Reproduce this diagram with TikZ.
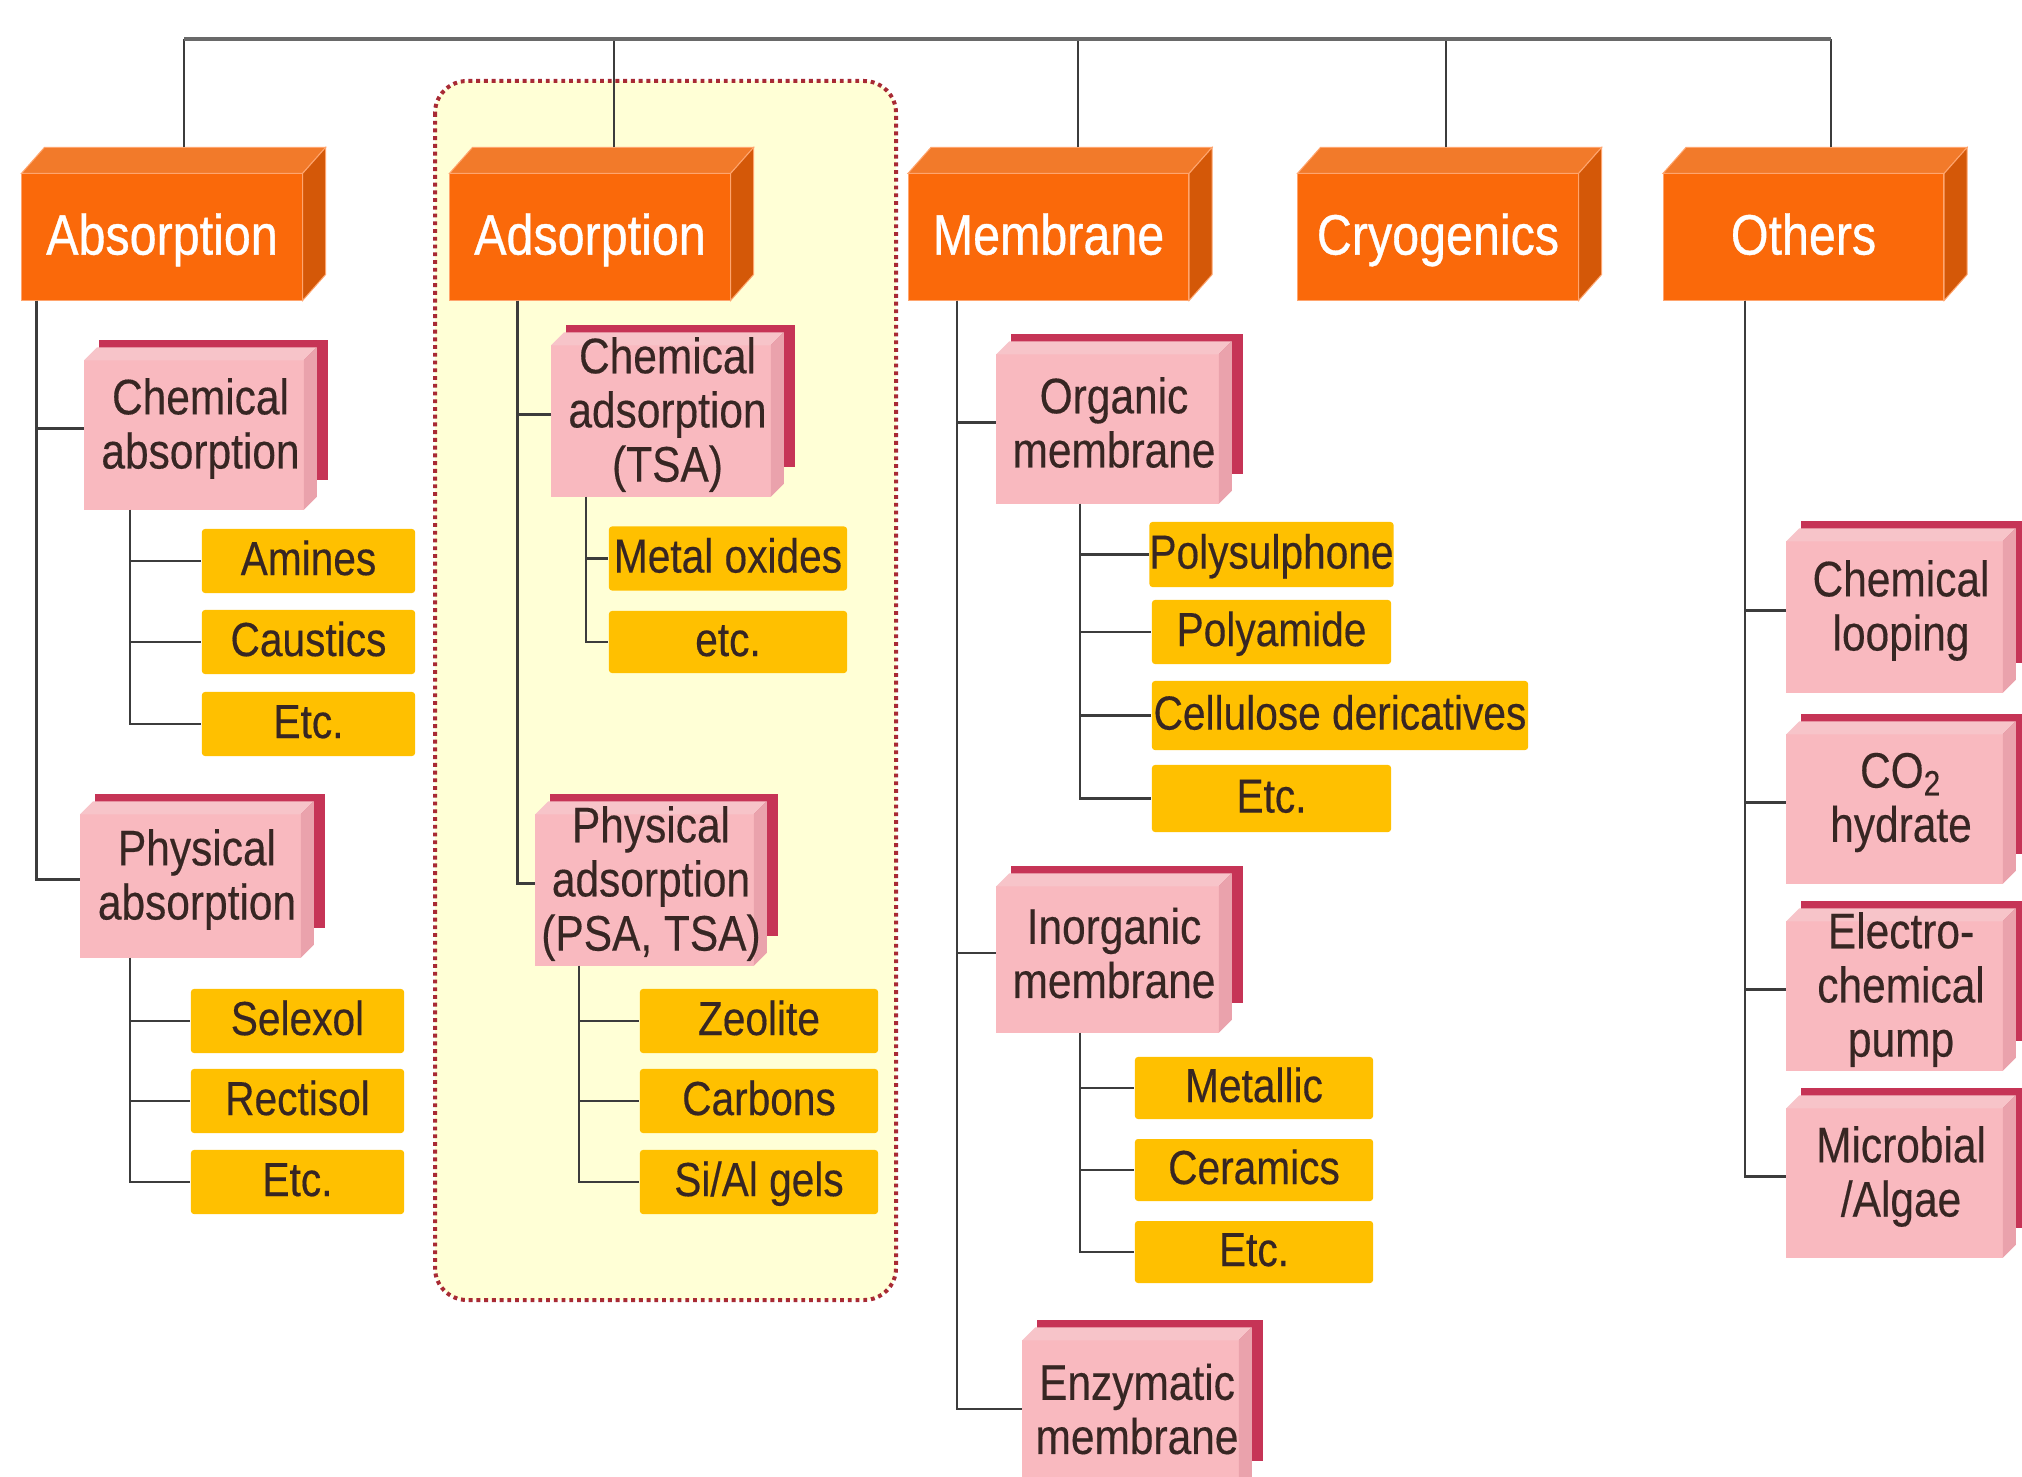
\documentclass[tikz,border=0pt]{standalone}
\usepackage{fontspec}
\setmainfont{Liberation Sans}
\newfontfamily\cfont[FakeStretch=0.85,FakeBold=0.3]{Liberation Sans}
\newfontfamily\hfont[FakeStretch=0.85,FakeBold=0.6]{Liberation Sans}
\newcommand\hfnt{\hfont\fontsize{16.2}{19}\selectfont}
\newcommand\pfnt{\cfont\fontsize{14.2}{15.4}\selectfont}
\newcommand\yfnt{\cfont\fontsize{13.6}{16}\selectfont}
\definecolor{orF}{RGB}{250,105,10}
\definecolor{orT}{RGB}{242,122,42}
\definecolor{orS}{RGB}{212,88,8}
\definecolor{orE}{RGB}{255,165,110}
\definecolor{pkF}{RGB}{249,185,191}
\definecolor{pkT}{RGB}{247,196,201}
\definecolor{pkS}{RGB}{234,162,172}
\definecolor{plate}{RGB}{198,52,86}
\definecolor{ylw}{RGB}{255,192,0}
\definecolor{txD}{RGB}{55,38,35}
\definecolor{lnC}{RGB}{60,60,60}
\definecolor{barC}{RGB}{105,105,105}
\definecolor{regF}{RGB}{255,255,214}
\definecolor{regD}{RGB}{168,42,52}
\pgfdeclarelayer{bgzero}
\pgfdeclarelayer{bgone}
\pgfsetlayers{bgzero,bgone,main}
\tikzset{
  hdr/.style={fill=orF, draw=orE, line width=0.01cm, text=white, font=\hfnt,
    minimum width=2.80cm, minimum height=1.26cm, inner sep=0pt,
    text height=13.4pt, text depth=3.4pt},
  pbox/.style={text=txD, font=\pfnt, align=center, inner sep=0pt,
    minimum width=2.31cm, minimum height=1.61cm},
  ybox/.style={fill=ylw, rounded corners=0.03cm, text=txD, font=\yfnt, inner sep=0pt,
    minimum width=2.13cm, minimum height=0.64cm, text height=10.9pt, text depth=2.9pt},
  conn/.style={draw=lnC, line width=0.025cm},
  topbar/.style={draw=barC, line width=0.045cm},
  region/.style={fill=regF, draw=regD, line width=0.04cm, dash pattern=on 1.1pt off 1.1pt,
    rounded corners=0.32cm}
}
\begin{document}
\begin{tikzpicture}[x=0.01cm,y=-0.01cm]
\useasboundingbox (0,0) rectangle (2022,1476);
\clip (0,0) rectangle (2022,1476);

% headers
\node[hdr] (absorp) at (162,237) {Absorption};
\node[hdr] (adsorp) at (590,237) {Adsorption};
\node[hdr] (membr) at (1048.5,237) {Membrane};
\node[hdr] (cryo) at (1438,237) {Cryogenics};
\node[hdr] (others) at (1803.5,237) {Others};
\foreach \n in {absorp,adsorp,membr,cryo,others}{
  \filldraw[fill=orT, draw=orE, line width=0.01cm] (\n.north west) -- ([shift={(23,-26)}]\n.north west) -- ([shift={(23,-26)}]\n.north east) -- (\n.north east) -- cycle;
  \filldraw[fill=orS, draw=orE, line width=0.01cm] (\n.north east) -- ([shift={(23,-26)}]\n.north east) -- ([shift={(23,-26)}]\n.south east) -- (\n.south east) -- cycle;
}

% pink boxes
\node[pbox] (ca) at (200.5,428.5) {Chemical\\absorption};
\node[pbox, minimum width=2.32cm, minimum height=1.55cm] (pa) at (197,879.5) {Physical\\absorption};
\node[pbox, minimum height=1.63cm] (cta) at (667.5,414.5) {Chemical\\adsorption\\(TSA)};
\node[pbox, minimum width=2.30cm, minimum height=1.63cm] (pta) at (651,883.5) {Physical\\adsorption\\(PSA, TSA)};
\node[pbox, minimum width=2.34cm] (om) at (1114,422.5) {Organic\\membrane};
\node[pbox, minimum width=2.34cm, minimum height=1.58cm] (im) at (1114,953) {Inorganic\\membrane};
\node[pbox, minimum width=2.28cm, minimum height=1.62cm] (em) at (1137,1409) {Enzymatic\\membrane};
\node[pbox, minimum width=2.28cm, minimum height=1.63cm] (cl) at (1901,610.5) {Chemical\\looping};
\node[pbox, minimum width=2.28cm] (ch) at (1901,802.5) {CO\textsubscript{2}\\hydrate};
\node[pbox, minimum width=2.28cm] (ep) at (1901,989.5) {Electro-\\chemical\\pump};
\node[pbox, minimum width=2.28cm] (ma) at (1901,1176.5) {Microbial\\/Algae};

\begin{pgfonlayer}{bgone}
\foreach \n in {ca,pa,cta,pta,om,im,em,cl,ch,ep,ma}{
  \fill[plate] ([shift={(15,-7)}]\n.north west) rectangle ([shift={(11,-30)}]\n.south east);
  \fill[pkF] ([shift={(0,13)}]\n.north west) rectangle ([shift={(-13,0)}]\n.south east);
  \fill[pkT] ([shift={(0,13)}]\n.north west) -- ([shift={(13,0)}]\n.north west) -- (\n.north east) -- ([shift={(-13,13)}]\n.north east) -- cycle;
  \fill[pkS] ([shift={(-13,13)}]\n.north east) -- (\n.north east) -- ([shift={(0,-13)}]\n.south east) -- ([shift={(-13,0)}]\n.south east) -- cycle;
}
\end{pgfonlayer}

\begin{pgfonlayer}{bgzero}
\fill[white] (0,0) rectangle (2022,1476);
\path[region] (435,81) rectangle (896,1300);
\end{pgfonlayer}

% yellow boxes
\node[ybox] (am) at (308.5,561) {Amines};
\node[ybox] (cs) at (308.5,642) {Caustics};
\node[ybox] (e1) at (308.5,724) {Etc.};
\node[ybox] (sx) at (297.5,1021) {Selexol};
\node[ybox] (rc) at (297.5,1101) {Rectisol};
\node[ybox] (e2) at (297.5,1182) {Etc.};
\node[ybox, minimum width=2.38cm] (mo) at (728,558.5) {Metal oxides};
\node[ybox, minimum width=2.38cm, minimum height=0.62cm] (e3) at (728,642) {etc.};
\node[ybox, minimum width=2.38cm] (ze) at (759,1021) {Zeolite};
\node[ybox, minimum width=2.38cm] (cb) at (759,1101) {Carbons};
\node[ybox, minimum width=2.38cm] (sg) at (759,1182) {Si/Al gels};
\node[ybox, minimum width=2.39cm, minimum height=0.65cm] (ps) at (1271.5,554.5) {Polysulphone};
\node[ybox, minimum width=2.39cm] (py) at (1271.5,632) {Polyamide};
\node[ybox, minimum width=3.76cm, minimum height=0.69cm] (cd) at (1340,715.5) {Cellulose dericatives};
\node[ybox, minimum width=2.39cm, minimum height=0.67cm] (e4) at (1271.5,798.5) {Etc.};
\node[ybox, minimum width=2.38cm, minimum height=0.62cm] (mt) at (1254,1088) {Metallic};
\node[ybox, minimum width=2.38cm, minimum height=0.62cm] (ce) at (1254,1170) {Ceramics};
\node[ybox, minimum width=2.38cm, minimum height=0.62cm] (e5) at (1254,1252) {Etc.};

% top bar and drops
\coordinate (barL) at (184,39);
\coordinate (barR) at (1831,39);
\coordinate (tA) at ([shift={(22,-26)}]absorp.north);
\coordinate (tB) at ([shift={(24,-26)}]adsorp.north);
\coordinate (tC) at ([shift={(29.5,-26)}]membr.north);
\coordinate (tD) at ([shift={(8,-26)}]cryo.north);
\coordinate (tE) at ([shift={(27.5,-26)}]others.north);
\foreach \t in {tA,tB,tC,tD,tE}{
  \draw[conn] (\t) -- (\t |- barL);
}
\draw[topbar] (barL) -- (barR);

% connectors
\coordinate (k1) at ([shift={(15,0)}]absorp.south west);
\draw[conn] (k1) |- (ca.west);
\draw[conn] (k1) |- (pa.west);
\coordinate (k2) at ([shift={(46,0)}]ca.south west);
\draw[conn] (k2) |- (am.west);
\draw[conn] (k2) |- (cs.west);
\draw[conn] (k2) |- (e1.west);
\coordinate (k3) at ([shift={(50,0)}]pa.south west);
\draw[conn] (k3) |- (sx.west);
\draw[conn] (k3) |- (rc.west);
\draw[conn] (k3) |- (e2.west);

\coordinate (k4) at ([shift={(68,0)}]adsorp.south west);
\draw[conn] (k4) |- (cta.west);
\draw[conn] (k4) |- (pta.west);
\coordinate (k5) at ([shift={(35,0)}]cta.south west);
\draw[conn] (k5) |- (mo.west);
\draw[conn] (k5) |- (e3.west);
\coordinate (k6) at ([shift={(44,0)}]pta.south west);
\draw[conn] (k6) |- (ze.west);
\draw[conn] (k6) |- (cb.west);
\draw[conn] (k6) |- (sg.west);

\coordinate (k7) at ([shift={(49,0)}]membr.south west);
\draw[conn] (k7) |- (om.west);
\draw[conn] (k7) |- (im.west);
\draw[conn] (k7) |- (em.west);
\coordinate (k8) at ([shift={(84,0)}]om.south west);
\draw[conn] (k8) |- (ps.west);
\draw[conn] (k8) |- (py.west);
\draw[conn] (k8) |- (cd.west);
\draw[conn] (k8) |- (e4.west);
\coordinate (k9) at ([shift={(84,0)}]im.south west);
\draw[conn] (k9) |- (mt.west);
\draw[conn] (k9) |- (ce.west);
\draw[conn] (k9) |- (e5.west);

\coordinate (k10) at ([shift={(82,0)}]others.south west);
\draw[conn] (k10) |- (cl.west);
\draw[conn] (k10) |- (ch.west);
\draw[conn] (k10) |- (ep.west);
\draw[conn] (k10) |- (ma.west);
\end{tikzpicture}
\end{document}
